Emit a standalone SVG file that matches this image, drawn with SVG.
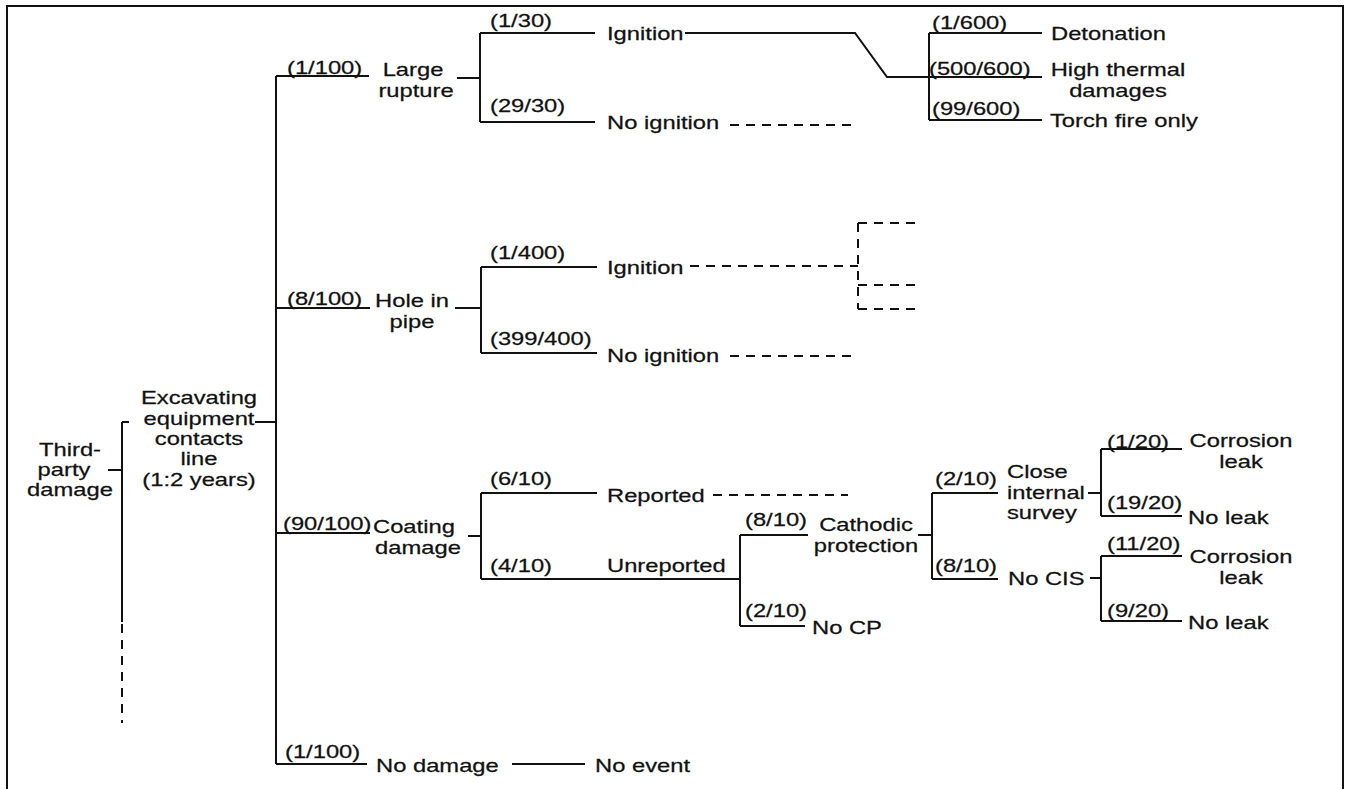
<svg xmlns="http://www.w3.org/2000/svg" width="1349" height="789" viewBox="0 0 1349 789">
<style>
text{font-family:"Liberation Sans",Arial,Helvetica,sans-serif;font-size:19px;fill:#111;stroke:#111;stroke-width:0.25}
.m{text-anchor:middle}
.c{fill:none;stroke:#111;stroke-width:2}
.d{fill:none;stroke:#111;stroke-width:2;stroke-dasharray:9 7}
</style>
<rect width="1349" height="789" fill="#fff"/>
<rect x="7" y="6" width="1336" height="795" fill="none" stroke="#111" stroke-width="2"/>
<g id="connectors">
<path class="c" d="M122 422H129M122 422V622M108 470H122M255 422H276M276 76V764M276 76H369M276 308H370M276 533H370M276 764H367"/>
<path class="d" d="M122 624V723"/>
<path class="c" d="M457 78H480M480 33V122M480 33H595M480 122H595M685 33H855L887 77H1042M929 33V120M929 33H1042M929 120H1042"/>
<path class="d" d="M730 125H858"/>
<path class="c" d="M455 308H481M481 267V353M481 267H597M481 353H597"/>
<path class="d" d="M690 266H858M858 223V309M858 223H916M858 285H916M858 309H916M730 356H858"/>
<path class="c" d="M468 536H481M481 493V579M481 493H597M481 579H740M740 535V626M740 535H808M740 626H805"/>
<path class="d" d="M713 495H848"/>
<path class="c" d="M918 535H932M932 493V579M932 493H998M932 579H998M1088 493H1101M1101 449V516M1101 449H1182M1101 516H1182M1090 578H1101M1101 556V621M1101 556H1182M1101 621H1182M512 764H585"/>
</g>
<g id="probabilities">
<text transform="translate(287 74) scale(1.25 1)">(1/100)</text>
<text transform="translate(490 27) scale(1.25 1)">(1/30)</text>
<text transform="translate(490 112) scale(1.25 1)">(29/30)</text>
<text transform="translate(932 29) scale(1.25 1)">(1/600)</text>
<text transform="translate(929 75) scale(1.25 1)">(500/600)</text>
<text transform="translate(932 115) scale(1.25 1)">(99/600)</text>
<text transform="translate(287 305) scale(1.25 1)">(8/100)</text>
<text transform="translate(490 259) scale(1.25 1)">(1/400)</text>
<text transform="translate(490 345) scale(1.25 1)">(399/400)</text>
<text transform="translate(283 530) scale(1.25 1)">(90/100)</text>
<text transform="translate(490 485) scale(1.25 1)">(6/10)</text>
<text transform="translate(490 572) scale(1.25 1)">(4/10)</text>
<text transform="translate(745 526) scale(1.25 1)">(8/10)</text>
<text transform="translate(745 617) scale(1.25 1)">(2/10)</text>
<text transform="translate(935 485) scale(1.25 1)">(2/10)</text>
<text transform="translate(935 572) scale(1.25 1)">(8/10)</text>
<text transform="translate(1107 448) scale(1.25 1)">(1/20)</text>
<text transform="translate(1107 509) scale(1.25 1)">(19/20)</text>
<text transform="translate(1107 550) scale(1.25 1)">(11/20)</text>
<text transform="translate(1107 617) scale(1.25 1)">(9/20)</text>
<text transform="translate(285 758) scale(1.25 1)">(1/100)</text>
</g>
<g id="n-third">
<text class="m" transform="translate(70 456) scale(1.25 1)">Third-</text>
<text class="m" transform="translate(64 476) scale(1.25 1)">party</text>
<text class="m" transform="translate(70 496) scale(1.25 1)">damage</text>
</g>
<g id="n-excavating">
<text class="m" transform="translate(199 404) scale(1.25 1)">Excavating</text>
<text class="m" transform="translate(199 425) scale(1.25 1)">equipment</text>
<text class="m" transform="translate(199 445) scale(1.25 1)">contacts</text>
<text class="m" transform="translate(199 465) scale(1.25 1)">line</text>
<text class="m" transform="translate(199 486) scale(1.25 1)">(1:2 years)</text>
</g>
<g id="n-large-rupture">
<text class="m" transform="translate(413 76) scale(1.25 1)">Large</text>
<text class="m" transform="translate(416 97) scale(1.25 1)">rupture</text>
</g>
<g id="n-ignition-1"><text transform="translate(607 40) scale(1.25 1)">Ignition</text></g>
<g id="n-no-ignition-1"><text transform="translate(607 129) scale(1.25 1)">No ignition</text></g>
<g id="n-detonation"><text transform="translate(1051 40) scale(1.25 1)">Detonation</text></g>
<g id="n-high-thermal">
<text class="m" transform="translate(1118 76) scale(1.25 1)">High thermal</text>
<text class="m" transform="translate(1118 97) scale(1.25 1)">damages</text>
</g>
<g id="n-torch"><text transform="translate(1050 127) scale(1.25 1)">Torch fire only</text></g>
<g id="n-hole">
<text class="m" transform="translate(412 307) scale(1.25 1)">Hole in</text>
<text class="m" transform="translate(412 328) scale(1.25 1)">pipe</text>
</g>
<g id="n-ignition-2"><text transform="translate(607 274) scale(1.25 1)">Ignition</text></g>
<g id="n-no-ignition-2"><text transform="translate(607 362) scale(1.25 1)">No ignition</text></g>
<g id="n-coating">
<text transform="translate(373 533) scale(1.25 1)">Coating</text>
<text class="m" transform="translate(418 554) scale(1.25 1)">damage</text>
</g>
<g id="n-reported"><text transform="translate(607 502) scale(1.25 1)">Reported</text></g>
<g id="n-unreported"><text transform="translate(607 572) scale(1.25 1)">Unreported</text></g>
<g id="n-cathodic">
<text class="m" transform="translate(866 531) scale(1.25 1)">Cathodic</text>
<text class="m" transform="translate(866 552) scale(1.25 1)">protection</text>
</g>
<g id="n-no-cp"><text transform="translate(812 634) scale(1.25 1)">No CP</text></g>
<g id="n-cis">
<text transform="translate(1007 478) scale(1.25 1)">Close</text>
<text transform="translate(1007 499) scale(1.25 1)">internal</text>
<text transform="translate(1007 519) scale(1.25 1)">survey</text>
</g>
<g id="n-no-cis"><text transform="translate(1008 585) scale(1.25 1)">No CIS</text></g>
<g id="n-corrosion-1">
<text class="m" transform="translate(1241 447) scale(1.25 1)">Corrosion</text>
<text class="m" transform="translate(1241 468) scale(1.25 1)">leak</text>
</g>
<g id="n-no-leak-1"><text transform="translate(1188 524) scale(1.25 1)">No leak</text></g>
<g id="n-corrosion-2">
<text class="m" transform="translate(1241 563) scale(1.25 1)">Corrosion</text>
<text class="m" transform="translate(1241 584) scale(1.25 1)">leak</text>
</g>
<g id="n-no-leak-2"><text transform="translate(1188 629) scale(1.25 1)">No leak</text></g>
<g id="n-no-damage"><text transform="translate(376 772) scale(1.25 1)">No damage</text></g>
<g id="n-no-event"><text transform="translate(595 772) scale(1.25 1)">No event</text></g>
</svg>
